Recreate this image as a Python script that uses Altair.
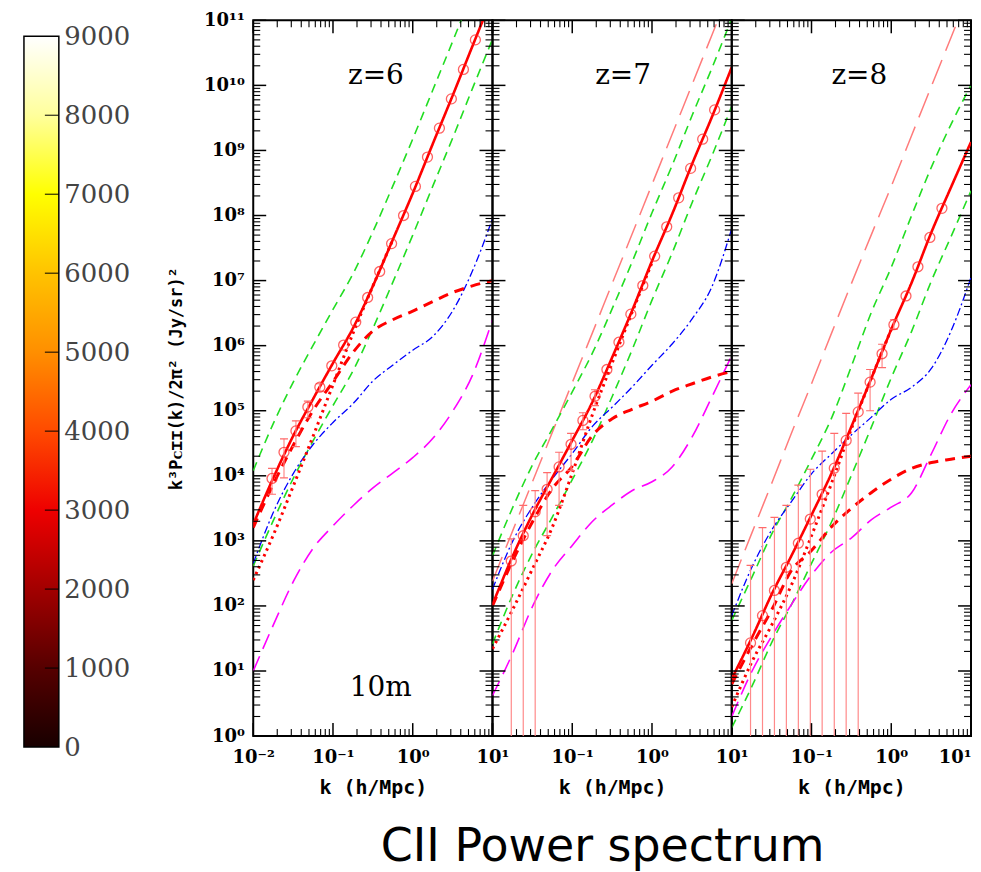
import altair as alt
import pandas as pd

# ---------------- data ----------------
# k grid (h/Mpc) on which the model curves were read
K_GRID = [0.01, 0.018, 0.032, 0.056, 0.1, 0.18, 0.32, 0.56, 1.0, 1.8, 3.2, 5.6, 10.0]
# k bins of the binned (circle) points
K_BINS = [0.0172, 0.0243, 0.0343, 0.0484, 0.0684, 0.0966, 0.136, 0.193, 0.272,
          0.385, 0.543, 0.767, 1.08, 1.53, 2.16, 3.05, 4.32, 6.10]

# ---- z = 6 ----
Z6_TOTAL = [1.8e3, 9.5e3, 4.2e4, 1.5e5, 5.4e5, 1.9e6, 8.5e6, 4.2e7, 2.2e8, 1.3e9, 7.2e9, 4.0e10, 2.3e11]
Z6_GREEN_HI = [1.2e4, 6.5e4, 2.8e5, 1.0e6, 3.6e6, 1.3e7, 5.8e7, 2.8e8, 1.5e9, 8.7e9, 4.9e10, 2.7e11, 1.6e12]
Z6_GREEN_LO = [4.1e2, 2.1e3, 9.3e3, 3.4e4, 1.2e5, 4.2e5, 1.9e6, 9.3e6, 5.0e7, 2.9e8, 1.6e9, 8.9e9, 5.1e10]
Z6_CLUSTER = [1.6e3, 7.6e3, 3.0e4, 1.0e5, 2.8e5, 8.0e5, 1.7e6, 2.5e6, 3.4e6, 4.8e6, 6.6e6, 8.3e6, 1.0e7]
Z6_SHOT = [2.5e2, 1.26e3, 7.1e3, 4.0e4, 2.5e5, 1.6e6, 8.5e6, 4.2e7]
Z6_BLUE = [4.5e2, 2.8e3, 1.1e4, 3.0e4, 6.6e4, 1.3e5, 2.9e5, 5.0e5, 8.5e5, 1.4e6, 3.5e6, 1.4e7, 8.9e7]
Z6_MAGENTA = [1.0e1, 5.2e1, 2.4e2, 7.6e2, 1.7e3, 3.5e3, 6.6e3, 1.1e4, 1.9e4, 3.8e4, 1.0e5, 3.5e5, 2.5e6]
Z6_POINTS = [9.1e3, 2.3e4, 4.9e4, 1.14e5, 2.3e5, 4.9e5, 1.02e6, 2.3e6, 5.5e6, 1.38e7, 3.7e7,
             1.0e8, 2.8e8, 7.9e8, 2.2e9, 6.2e9, 1.76e10, 5.0e10]
Z6_ERR_LO = [5.2e3, 9.3e3, 2.8e4, 7.8e4, 2.0e5]
Z6_ERR_HI = [1.3e4, 3.7e4, 7.0e4, 1.4e5, 2.6e5]

# ---- z = 7 ----
Z7_TOTAL = [1.05e2, 5.9e2, 2.6e3, 9.3e3, 3.5e4, 1.38e5, 6.8e5, 3.4e6, 2.0e7, 1.07e8, 6.3e8, 3.2e9, 1.9e10]
Z7_GREEN_HI = [5.9e2, 3.3e3, 1.5e4, 5.2e4, 1.95e5, 7.8e5, 3.8e6, 1.9e7, 1.1e8, 6.0e8, 3.5e9, 1.8e10, 1.07e11]
Z7_GREEN_LO = [26, 1.5e2, 6.6e2, 2.3e3, 8.7e3, 3.5e4, 1.7e5, 8.5e5, 5.0e6, 2.7e7, 1.6e8, 8.1e8, 4.8e9]
Z7_CLUSTER = [1.0e2, 5.0e2, 2.0e3, 6.3e3, 1.4e4, 4.2e4, 7.6e4, 1.05e5, 1.4e5, 2.0e5, 2.6e5, 3.3e5, 4.0e5]
Z7_SHOT = [22, 89, 3.8e2, 1.6e3, 1.1e4, 8.9e4, 5.6e5, 3.2e6, 1.9e7]
Z7_BLUE = [1.8e2, 1.0e3, 3.4e3, 8.9e3, 2.2e4, 5.8e4, 1.15e5, 2.3e5, 5.0e5, 1.07e6, 2.6e6, 7.9e6, 6.3e7]
Z7_MAGENTA = [4.2, 19, 1.0e2, 3.5e2, 8.5e2, 2.0e3, 3.6e3, 5.9e3, 8.1e3, 1.38e4, 4.0e4, 1.6e5, 7.1e5]
Z7_SALMON = [2.4e2, 1.45e3, 8.3e3, 4.6e4, 2.7e5, 1.6e6, 9.3e6, 5.1e7, 3.0e8, 1.8e9, 1.05e10, 5.8e10, 3.4e11]
Z7_POINTS = [4.9e2, 1.2e3, 2.8e3, 6.2e3, 1.37e4, 3.05e4, 7.1e4, 1.67e5, 4.3e5, 1.13e6, 3.05e6,
             8.4e6, 2.37e7, 6.7e7, 1.87e8, 5.3e8, 1.49e9, 4.2e9]
Z7_ERR_LO = [0.3, 0.3, 0.3, 1.2e3, 3.5e3, 1.2e4, 5.1e4, 1.2e5]
Z7_ERR_HI = [1.07e3, 3.5e3, 5.9e3, 1.12e4, 2.3e4, 4.5e4, 9.3e4, 2.1e5]

# ---- z = 8 ----
Z8_TOTAL = [7.6, 33, 1.55e2, 5.9e2, 2.5e3, 1.12e4, 5.9e4, 3.1e5, 1.78e6, 9.3e6, 5.6e7, 2.7e8, 1.35e9]
Z8_GREEN_HI = [60, 2.8e2, 1.3e3, 4.5e3, 1.8e4, 7.9e4, 5.0e5, 3.2e6, 1.6e7, 1.0e8, 5.6e8, 2.5e9, 1.0e10]
Z8_GREEN_LO = [1.35, 5.9, 28, 1.05e2, 4.5e2, 2.0e3, 1.05e4, 5.5e4, 3.2e5, 1.66e6, 1.0e7, 4.7e7, 2.4e8]
Z8_CLUSTER = [6.3, 25, 89, 3.5e2, 7.1e2, 1.66e3, 3.2e3, 5.5e3, 8.9e3, 1.3e4, 1.6e4, 1.8e4, 2.0e4]
Z8_SHOT = [2.8, 14, 52, 2.1e2, 1.2e3, 7.9e3, 5.5e4, 3.1e5, 1.78e6]
Z8_BLUE = [71, 4.0e2, 1.5e3, 4.0e3, 1.07e4, 2.2e4, 4.3e4, 7.9e4, 1.5e5, 2.3e5, 4.5e5, 1.66e6, 1.12e7]
Z8_MAGENTA = [2.0, 10, 35, 1.05e2, 3.0e2, 6.8e2, 1.12e3, 2.1e3, 3.3e3, 5.5e3, 2.2e4, 8.9e4, 2.5e5]
Z8_SALMON = [2.2e2, 1.35e3, 7.9e3, 4.5e4, 2.6e5, 1.6e6, 9.3e6, 5.0e7, 2.8e8, 1.7e9, 9.8e9, 5.4e10, 3.2e11]
Z8_POINTS = [27, 71, 1.73e2, 3.93e2, 9.2e2, 2.16e3, 5.2e3, 1.31e4, 3.5e4, 9.6e4, 2.75e5,
             7.5e5, 2.1e6, 5.8e6, 1.63e7, 4.6e7, 1.29e8]
Z8_ERR_LO = [0.3, 0.3, 0.3, 0.3, 0.3, 0.3, 0.3, 0.3, 0.3, 0.3, 1.0e5, 4.6e5, 1.8e6]
Z8_ERR_HI = [4.2e2, 1.6e3, 2.3e3, 3.5e3, 7.2e3, 1.26e4, 2.4e4, 4.5e4, 9.1e4, 1.86e5, 4.3e5, 1.05e6, 2.5e6]

# ---- text ----
PANEL_LABELS = ["z=6", "z=7", "z=8"]
PANEL_LABEL_K = [0.345, 0.434, 0.398]
PANEL_LABEL_P = 1.4e10
NOTE_TEXT = "10m"
NOTE_K, NOTE_P = 0.398, 5.4
Y_TITLE = "k³Pᴄɪɪ(k)/2π² (Jy/sr)²"
X_TITLE = "k (h/Mpc)"
MAIN_TITLE = "CII Power spectrum"

# ---- axes / colour bar ----
X_MAJOR = [0.01, 0.1, 1.0, 10.0]
X_MINOR = [m * 10.0 ** e for e in (-2, -1, 0) for m in range(2, 10)]
Y_MAJOR = [10.0 ** e for e in range(12)]
Y_MINOR = [m * 10.0 ** e for e in range(11) for m in range(2, 10)]
CB_TICKS = [0, 1000, 2000, 3000, 4000, 5000, 6000, 7000, 8000, 9000]
CB_STOPS = [(0.0, "#180000"), (0.111, "#560000"), (0.222, "#a20000"), (0.333, "#ee0000"),
            (0.444, "#ff4a00"), (0.556, "#ff8f00"), (0.667, "#ffc300"), (0.778, "#ffff00"),
            (0.889, "#ffff9c"), (1.0, "#ffffff")]

STYLE = {
    "salmon": ("#ff7b7b", [26, 10], 1.5),
    "green_hi": ("#22dd22", [9, 6], 1.6),
    "green_lo": ("#22dd22", [9, 6], 1.6),
    "magenta": ("#ff00ff", [16, 8], 1.6),
    "blue": ("#0000ff", [8, 3, 2, 3], 1.3),
    "cluster": ("#ff0000", [10, 7], 3.0),
    "shot": ("#ff0000", [2.5, 4], 3.0),
    "total": ("#ff0000", [1, 0], 2.6),
}
ORDER = ["salmon", "green_hi", "green_lo", "magenta", "blue", "cluster", "shot", "total"]

PW, PH = 240, 718
XSCALE = alt.Scale(type="log", domain=[0.01, 10], nice=False)
YSCALE = alt.Scale(type="log", domain=[1, 1e11], nice=False)
SUP = "['⁰','¹','²','³','⁴','⁵','⁶','⁷','⁸','⁹','¹⁰','¹¹']"


def make_panel(idx, curves, pts, err_lo, err_hi, note=False):
    first = idx == 0
    last = idx == 2
    first_lab = "'10⁻²'" if first else "''"
    x_expr = (f"datum.value < 0.05 ? {first_lab} : datum.value < 0.5 ? '10⁻¹' : "
              "datum.value < 5 ? '10⁰' : '10¹'")
    x_axis = alt.Axis(values=X_MAJOR, labelExpr=x_expr, ticks=False, domain=False, grid=False,
                      labelFont="DejaVu Serif", labelFontWeight="bold", labelFontSize=18,
                      labelPadding=13, labelFlush=last, labelOverlap=False, labelColor="black",
                      title=X_TITLE, titleFont="DejaVu Sans Mono", titleFontWeight="bold",
                      titleFontSize=20, titlePadding=11, titleColor="black")
    x_enc = alt.X("k:Q", scale=XSCALE, axis=x_axis)
    if first:
        y_axis = alt.Axis(values=Y_MAJOR, labelExpr=f"'10' + {SUP}[round(log(datum.value)/LN10)]",
                          ticks=False, domain=False, grid=False, labelFont="DejaVu Serif",
                          labelFontWeight="bold", labelFontSize=18, labelPadding=9,
                          labelOverlap=False, labelFlush=False, labelColor="black",
                          title=Y_TITLE, titleFont="DejaVu Sans Mono", titleFontWeight="bold",
                          titleFontSize=17, titlePadding=18, titleColor="black")
        y_enc = alt.Y("P:Q", scale=YSCALE, axis=y_axis)
    else:
        y_enc = alt.Y("P:Q", scale=YSCALE, axis=None)

    layers = []
    # curves
    for name in ORDER:
        if name not in curves:
            continue
        ks, ps = curves[name]
        col, dash, wid = STYLE[name]
        df = pd.DataFrame({"k": ks[:len(ps)], "P": ps})
        layers.append(alt.Chart(df).mark_line(color=col, strokeDash=dash, strokeWidth=wid,
                                              clip=True, interpolate="monotone")
                      .encode(x=x_enc, y=y_enc))
    # error bars
    n = len(err_lo)
    edf = pd.DataFrame({"k": K_BINS[:n], "P": err_lo, "P2": err_hi})
    layers.append(alt.Chart(edf).mark_rule(color="#ff8a8a", strokeWidth=1.2, clip=True)
                  .encode(x=x_enc, y=y_enc, y2="P2:Q"))
    caps = pd.DataFrame({"k": K_BINS[:n] + K_BINS[:n], "P": list(err_hi) + list(err_lo)})
    layers.append(alt.Chart(caps).mark_rule(color="#ff6a6a", strokeWidth=1.2, clip=True,
                                            xOffset=-4, x2Offset=4)
                  .encode(x=x_enc, x2="k:Q", y=y_enc))
    # binned points
    pdf = pd.DataFrame({"k": K_BINS[:len(pts)], "P": pts})
    layers.append(alt.Chart(pdf).mark_point(shape="circle", filled=False, size=100,
                                            color="#ff2020", strokeWidth=1.3, clip=True)
                  .encode(x=x_enc, y=y_enc))
    # inward tick marks
    for vals, ln, w in ((Y_MAJOR, 13, 1.5), (Y_MINOR, 7, 1.1)):
        tdf = pd.DataFrame({"P": vals})
        layers.append(alt.Chart(tdf).mark_rule(color="black", strokeWidth=w)
                      .encode(y=y_enc, x=alt.value(0), x2=alt.value(ln)))
        layers.append(alt.Chart(tdf).mark_rule(color="black", strokeWidth=w)
                      .encode(y=y_enc, x=alt.value(PW), x2=alt.value(PW - ln)))
    for vals, ln, w in ((X_MAJOR, 13, 1.5), (X_MINOR, 7, 1.1)):
        tdf = pd.DataFrame({"k": vals})
        layers.append(alt.Chart(tdf).mark_rule(color="black", strokeWidth=w)
                      .encode(x=x_enc, y=alt.value(PH), y2=alt.value(PH - ln)))
        layers.append(alt.Chart(tdf).mark_rule(color="black", strokeWidth=w)
                      .encode(x=x_enc, y=alt.value(0), y2=alt.value(ln)))
    # text
    tdf = pd.DataFrame({"k": [PANEL_LABEL_K[idx]], "P": [PANEL_LABEL_P], "t": [PANEL_LABELS[idx]]})
    layers.append(alt.Chart(tdf).mark_text(font="DejaVu Serif", fontSize=28, color="black",
                                           align="center", baseline="middle")
                  .encode(x=x_enc, y=y_enc, text="t:N"))
    if note:
        ndf = pd.DataFrame({"k": [NOTE_K], "P": [NOTE_P], "t": [NOTE_TEXT]})
        layers.append(alt.Chart(ndf).mark_text(font="DejaVu Serif", fontSize=28, color="black",
                                               align="center", baseline="middle")
                      .encode(x=x_enc, y=y_enc, text="t:N"))
    return alt.layer(*layers).properties(
        width=PW, height=PH, view=alt.ViewBackground(stroke="black", strokeWidth=2))


p1 = make_panel(0, {
    "green_hi": (K_GRID, Z6_GREEN_HI), "green_lo": (K_GRID, Z6_GREEN_LO),
    "magenta": (K_GRID, Z6_MAGENTA), "blue": (K_GRID, Z6_BLUE),
    "cluster": (K_GRID, Z6_CLUSTER), "shot": (K_GRID, Z6_SHOT), "total": (K_GRID, Z6_TOTAL)},
    Z6_POINTS, Z6_ERR_LO, Z6_ERR_HI, note=True)
p2 = make_panel(1, {
    "salmon": (K_GRID, Z7_SALMON),
    "green_hi": (K_GRID, Z7_GREEN_HI), "green_lo": (K_GRID, Z7_GREEN_LO),
    "magenta": (K_GRID, Z7_MAGENTA), "blue": (K_GRID, Z7_BLUE),
    "cluster": (K_GRID, Z7_CLUSTER), "shot": (K_GRID, Z7_SHOT), "total": (K_GRID, Z7_TOTAL)},
    Z7_POINTS, Z7_ERR_LO, Z7_ERR_HI)
p3 = make_panel(2, {
    "salmon": (K_GRID, Z8_SALMON),
    "green_hi": (K_GRID, Z8_GREEN_HI), "green_lo": (K_GRID, Z8_GREEN_LO),
    "magenta": (K_GRID, Z8_MAGENTA), "blue": (K_GRID, Z8_BLUE),
    "cluster": (K_GRID, Z8_CLUSTER), "shot": (K_GRID, Z8_SHOT), "total": (K_GRID, Z8_TOTAL)},
    Z8_POINTS, Z8_ERR_LO, Z8_ERR_HI)

panels = alt.hconcat(p1, p2, p3, spacing=0, bounds="flush",
                     title=alt.Title(MAIN_TITLE, orient="bottom", anchor="middle", font="DejaVu Sans",
                                     fontSize=46, fontWeight="normal", color="black", offset=26, dx=33))

# colour bar
cb_scale = alt.Scale(domain=[0, 9202], nice=False, zero=False)
cb_axis = alt.Axis(orient="right", values=CB_TICKS, format="d", ticks=False, domain=False, grid=False,
                   labelFont="DejaVu Serif", labelFontSize=26, labelColor="#444", labelPadding=5,
                   labelOverlap=False, labelFlush=False, title=None)
grad = alt.LinearGradient(gradient="linear", x1=0, x2=0, y1=1, y2=0,
                          stops=[alt.GradientStop(offset=o, color=c) for o, c in CB_STOPS])
cb_bar = alt.Chart(pd.DataFrame({"v": [CB_TICKS[0]], "v2": [CB_TICKS[-1]]})).mark_rect(
    fill=grad, stroke="black", strokeWidth=1.5).encode(
    y=alt.Y("v:Q", scale=cb_scale, axis=cb_axis), y2="v2:Q", x=alt.value(0), x2=alt.value(35))
cb_ticks = alt.Chart(pd.DataFrame({"v": CB_TICKS[1:-1]})).mark_rule(color="black", strokeWidth=1).encode(
    y=alt.Y("v:Q", scale=cb_scale, axis=cb_axis), x=alt.value(21), x2=alt.value(35))
colorbar = alt.layer(cb_bar, cb_ticks).properties(
    width=35, height=729, view=alt.ViewBackground(stroke="transparent"))

chart = alt.hconcat(colorbar, panels, spacing=195, bounds="flush").properties(
    padding={"left": 14, "top": 1, "right": 0, "bottom": 0}, background="white")

chart.save("out.html", embed_options={"renderer": "svg", "actions": False})
